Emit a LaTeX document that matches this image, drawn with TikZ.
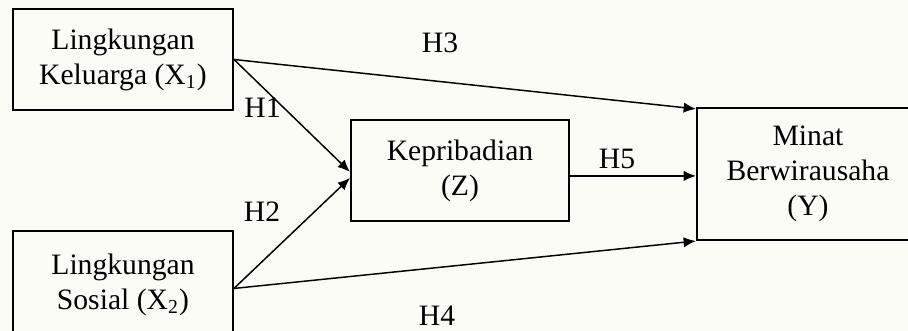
\documentclass[tikz,border=0pt]{standalone}
\usepackage{fontspec}
\setmainfont{Liberation Serif}
\usetikzlibrary{arrows.meta}
\definecolor{paper}{RGB}{252,252,247}

\begin{document}
\begin{tikzpicture}[x=0.405pt, y=-0.405pt, >={Latex[length=5pt,width=4.2pt]},
    font=\fontsize{12}{14.2}\selectfont,
    box/.style={draw, line width=0.8pt, align=center, inner sep=0pt},
    hyp/.style={->, line width=0.6pt}]
    \useasboundingbox (0,0) rectangle (908,331);
    \fill[paper] (0,0) rectangle (908,331);
    \clip (0,0) rectangle (908,331);

    % variabel
    \node[box, minimum width=89.1pt, minimum height=40.9pt] (keluarga) at (123,59.5) {Lingkungan\\Keluarga (X\textsubscript{1})};
    \node[box, minimum width=89.1pt, minimum height=43.3pt] (sosial) at (123,284.5) {Lingkungan\\Sosial (X\textsubscript{2})};
    \node[box, minimum width=88.3pt, minimum height=40.9pt] (kepribadian) at (460,170.5) {Kepribadian\\(Z)};
    \node[box, minimum width=89.9pt, minimum height=53.5pt] (minat) at (808,174) {Minat\\Berwirausaha\\(Y)};

    % hipotesis
    \draw[hyp] (keluarga.east) -- ([yshift=-0.6pt]kepribadian.west);
    \draw[hyp] ([yshift=-1.6pt]sosial.east) -- ([yshift=-3pt]kepribadian.west);
    \draw[hyp] (keluarga.east) -- ([yshift=-0.8pt]minat.north west);
    \draw[hyp] ([yshift=-1.6pt]sosial.east) -- (minat.south west);
    \draw[hyp] ([yshift=-2.2pt]kepribadian.east) -- ([yshift=-2.2pt]kepribadian.east -| minat.west);

    \node (h1) at (262.5,107.5) {H1};
    \node (h2) at (262,212) {H2};
    \node (h3) at (440,42.5) {H3};
    \node (h4) at (437,316) {H4};
    \node (h5) at (617,159) {H5};
\end{tikzpicture}
\end{document}
